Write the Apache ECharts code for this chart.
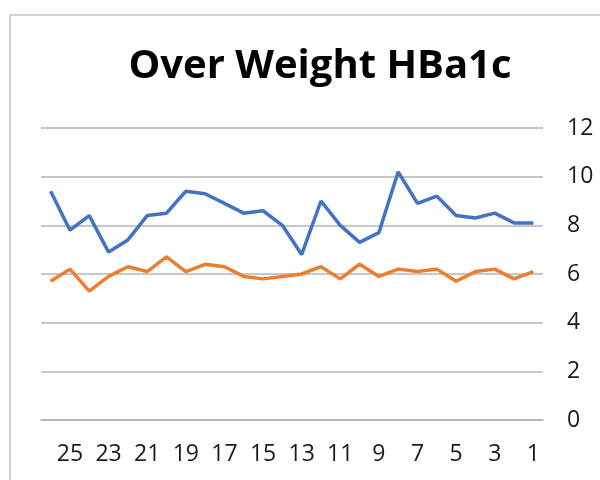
<!DOCTYPE html>
<html>
<head>
<meta charset="utf-8">
<script src="https://cdn.jsdelivr.net/npm/echarts@6/dist/echarts.min.js"></script>
<style>
html,body{margin:0;padding:0;background:#fff;}
#chart{width:600px;height:480px;}
</style>
</head>
<body>
<div id="chart"></div>
<script>
var titleText = 'Over Weight HBa1c';
var categories = ['26','25','24','23','22','21','20','19','18','17','16','15','14','13','12','11','10','9','8','7','6','5','4','3','2','1'];
var blueValues = [9.4,7.8,8.4,6.9,7.4,8.4,8.5,9.4,9.3,8.9,8.5,8.6,8.0,6.8,9.0,8.0,7.3,7.7,10.2,8.9,9.2,8.4,8.3,8.5,8.1,8.1];
var orangeValues = [5.7,6.2,5.3,5.9,6.3,6.1,6.7,6.1,6.4,6.3,5.9,5.8,5.9,6.0,6.3,5.8,6.4,5.9,6.2,6.1,6.2,5.7,6.1,6.2,5.8,6.1];
var yMin = 0, yMax = 12, yStep = 2;

var chart = echarts.init(document.getElementById('chart'), null, {renderer:'canvas'});
chart.setOption({
  animation: false,
  backgroundColor: '#ffffff',
  graphic: [{
    type: 'rect',
    shape: {x: 10, y: 15, width: 620, height: 500},
    style: {fill: 'none', stroke: '#a6a6a6', lineWidth: 1},
    silent: true
  }],
  title: {
    text: titleText,
    left: 315,
    top: 42,
    textAlign: 'center',
    textStyle: {fontFamily: 'Open Sans', fontWeight: 'bold', fontSize: 40, color: '#000'}
  },
  grid: {left: 41, right: 57, top: 128, bottom: 60, containLabel: false},
  xAxis: {
    type: 'category',
    data: categories,
    boundaryGap: true,
    axisLine: {show: true, lineStyle: {color: '#b4b4b4', width: 1.5}},
    axisTick: {show: false},
    axisLabel: {
      interval: function(idx){ return idx % 2 === 1; },
      fontFamily: 'Open Sans', fontSize: 23, color: '#1a1a1a', margin: 23
    },
    splitLine: {show: false}
  },
  yAxis: {
    type: 'value',
    position: 'right',
    min: yMin, max: yMax, interval: yStep,
    axisLine: {show: false},
    axisTick: {show: false},
    axisLabel: {fontFamily: 'Open Sans', fontSize: 23, color: '#1a1a1a', margin: 24, align: 'left'},
    splitLine: {lineStyle: {color: '#b4b4b4', width: 1.5}}
  },
  series: [
    {type: 'line', data: blueValues, showSymbol: false, symbol: 'none',
     lineStyle: {color: '#4472C4', width: 3.5}, itemStyle: {color: '#4472C4'}},
    {type: 'line', data: orangeValues, showSymbol: false, symbol: 'none',
     lineStyle: {color: '#ED7D31', width: 3.5}, itemStyle: {color: '#ED7D31'}}
  ]
});
</script>
</body>
</html>
